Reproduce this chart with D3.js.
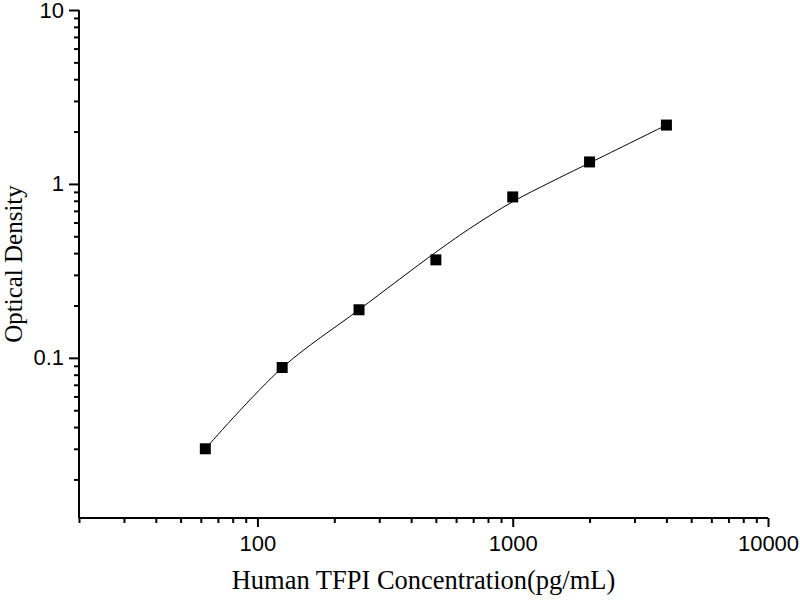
<!DOCTYPE html>
<html>
<head>
<meta charset="utf-8">
<script src="https://cdn.jsdelivr.net/npm/d3@7"></script>
<style>
  html, body { margin: 0; padding: 0; background: #fff; }
  svg { display: block; }
</style>
</head>
<body>
<svg id="chart" width="800" height="600"></svg>
<script>
// Data
const concentrations = [62.5, 125, 250, 500, 1000, 2000, 4000];
const odValues = [0.030, 0.088, 0.189, 0.366, 0.842, 1.338, 2.18];
// Fitted curve samples
const fitConc = [62.5, 125, 250, 500, 700, 1000, 1400, 2000, 4000];
const fitOD = [0.030, 0.0877, 0.189, 0.405, 0.571, 0.79, 1.02, 1.32, 2.18];
// Ticks
const xMajorTicks = [100, 1000, 10000];
const xMinorTicks = [20, 30, 40, 50, 60, 70, 80, 90, 200, 300, 400, 500, 600, 700, 800, 900, 2000, 3000, 4000, 5000, 6000, 7000, 8000, 9000];
const yMajorTicks = [0.1, 1, 10];
const yMinorTicks = [0.02, 0.03, 0.04, 0.05, 0.06, 0.07, 0.08, 0.09, 0.2, 0.3, 0.4, 0.5, 0.6, 0.7, 0.8, 0.9, 2, 3, 4, 5, 6, 7, 8, 9];
const xTitle = "Human TFPI Concentration(pg/mL)";
const yTitle = "Optical Density";

(function () {
const svg = d3.select("#chart");
const mLeft = 79, mRight = 768, mTop = 10, mBottom = 518;

const x = d3.scaleLog().domain([20, 10000]).range([mLeft, mRight]);
const y = d3.scaleLog().domain([0.012, 10]).range([mBottom, mTop]);

const tickFont = "'Liberation Sans', Arial, sans-serif";
const titleFont = "'Liberation Serif', 'Times New Roman', serif";

// X axis
const gx = svg.append("g").attr("transform", `translate(0,${mBottom})`);
gx.call(d3.axisBottom(x).tickValues(xMinorTicks).tickSize(5).tickFormat(""));
gx.call(g => g.select(".domain").remove());
const gxMaj = svg.append("g").attr("transform", `translate(0,${mBottom})`)
  .call(d3.axisBottom(x).tickValues(xMajorTicks).tickSize(9).tickSizeOuter(0).tickPadding(8).tickFormat(d3.format("d")));
gxMaj.select(".domain").attr("d", `M${mLeft},0H${mRight}`);

// Y axis
const gy = svg.append("g").attr("transform", `translate(${mLeft},0)`);
gy.call(d3.axisLeft(y).tickValues(yMinorTicks).tickSize(5).tickFormat(""));
gy.call(g => g.select(".domain").remove());
const gyMaj = svg.append("g").attr("transform", `translate(${mLeft},0)`)
  .call(d3.axisLeft(y).tickValues(yMajorTicks).tickSize(10).tickSizeOuter(0).tickPadding(5).tickFormat(d => d3.format("~g")(d)));
gyMaj.select(".domain").attr("d", `M0,${mBottom}V${mTop}`);

svg.selectAll(".domain").attr("stroke", "#000").attr("stroke-width", 2);
svg.selectAll(".tick line").attr("stroke", "#000").attr("stroke-width", 2);
svg.selectAll(".tick text").attr("fill", "#000").style("font-family", tickFont).style("font-size", "22px");

// Fitted curve
const line = d3.line()
  .x(d => x(d[0]))
  .y(d => y(d[1]))
  .curve(d3.curveCatmullRom.alpha(0.5));
svg.append("path")
  .datum(fitConc.map((c, i) => [c, fitOD[i]]))
  .attr("d", line)
  .attr("fill", "none")
  .attr("stroke", "#000")
  .attr("stroke-width", 1);

// Points
const sz = 11;
svg.append("g").selectAll("rect")
  .data(concentrations.map((c, i) => [c, odValues[i]]))
  .join("rect")
  .attr("x", d => x(d[0]) - sz / 2)
  .attr("y", d => y(d[1]) - sz / 2)
  .attr("width", sz)
  .attr("height", sz)
  .attr("fill", "#000");

// Titles
svg.append("text")
  .attr("x", (mLeft + mRight) / 2)
  .attr("y", 589)
  .attr("text-anchor", "middle")
  .style("font-family", titleFont)
  .style("font-size", "26.5px")
  .text(xTitle);

svg.append("text")
  .attr("transform", `translate(22,${(mTop + mBottom) / 2}) rotate(-90)`)
  .attr("text-anchor", "middle")
  .style("font-family", titleFont)
  .style("font-size", "25px")
  .text(yTitle);
})();
</script>
</body>
</html>
